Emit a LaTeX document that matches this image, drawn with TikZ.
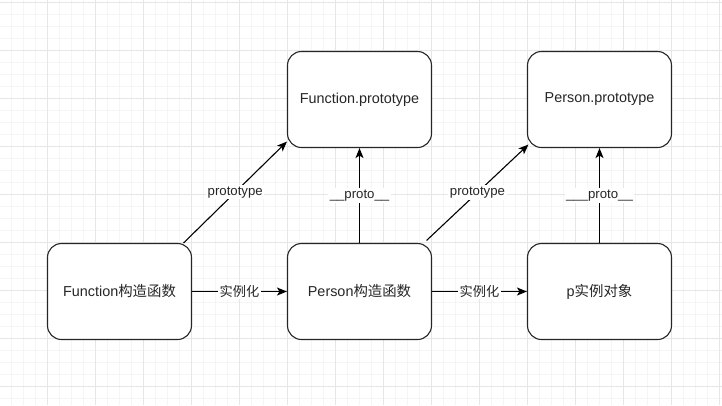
\documentclass[tikz,border=0pt]{standalone}
\usepackage{fontspec}
\setmainfont{Liberation Sans}
\newfontfamily\cjk{Noto Sans CJK SC}
\usetikzlibrary{arrows.meta,calc}
\definecolor{gridmajor}{HTML}{E6E6E6}
\definecolor{gridminor}{HTML}{F5F5F5}
\definecolor{txt}{HTML}{262626}
\tikzset{
  box/.style={draw=black!85, line width=1.1pt, rounded corners=14pt, minimum width=144pt, minimum height=96pt, inner sep=0pt, text=txt, font=\fontsize{14.4}{16}\selectfont, fill=white},
  conn/.style={draw=black, line width=1.1pt, -{Stealth[length=10pt,width=8pt,inset=2.5pt]}},
  lbl/.style={fill=white, inner sep=1.5pt, text=txt, font=\fontsize{13.2}{15}\selectfont}
}
\begin{document}
\begin{tikzpicture}[x=1pt,y=-1pt]
\useasboundingbox (0,0) rectangle (722,405);
\fill[white] (0,0) rectangle (722,405);
% minor grid
\foreach \i in {0,...,61} { \draw[gridminor, line width=0.8pt] ({-1+12*\i},0) -- ({-1+12*\i},405); }
\foreach \j in {0,...,34} { \draw[gridminor, line width=0.8pt] (0,{2+12*\j}) -- (722,{2+12*\j}); }
% major grid
\foreach \i in {0,...,15} { \draw[gridmajor, line width=1pt] ({-1+48*\i},0) -- ({-1+48*\i},405); }
\foreach \j in {0,...,8} { \draw[gridmajor, line width=1pt] (0,{2+48*\j}) -- (722,{2+48*\j}); }

\node[box] (fp) at (359.5,99.5) {Function.prototype};
\node[box] (pp) at (599.5,99.5) {Person.prototype};
\node[box] (fc) at (119.5,291.5) {Function{\cjk 构造函数}};
\node[box] (pc) at (359.5,291.5) {Person{\cjk 构造函数}};
\node[box] (po) at (599.5,291.5) {p{\cjk 实例对象}};

\coordinate (s1) at ($(fc.north east)+(-8.5,0)$);
\coordinate (e1) at ($(fp.south west)+(0,-6.5)$);
\coordinate (s2) at ($(pc.north east)+(-5.5,-2.5)$);
\coordinate (e2) at ($(pp.south west)+(1.5,-3.5)$);

\draw[conn] (s1) -- node[lbl] {prototype} (e1);
\draw[conn] (pc.north) -- node[lbl] {\_\_proto\_\_} (fp.south);
\draw[conn] (s2) -- node[lbl] {prototype} (e2);
\draw[conn] (po.north) -- node[lbl] {\_\_\_proto\_\_} (pp.south);
\draw[conn] (fc.east) -- node[lbl] {\cjk 实例化} (pc.west);
\draw[conn] (pc.east) -- node[lbl] {\cjk 实例化} (po.west);
\end{tikzpicture}
\end{document}
